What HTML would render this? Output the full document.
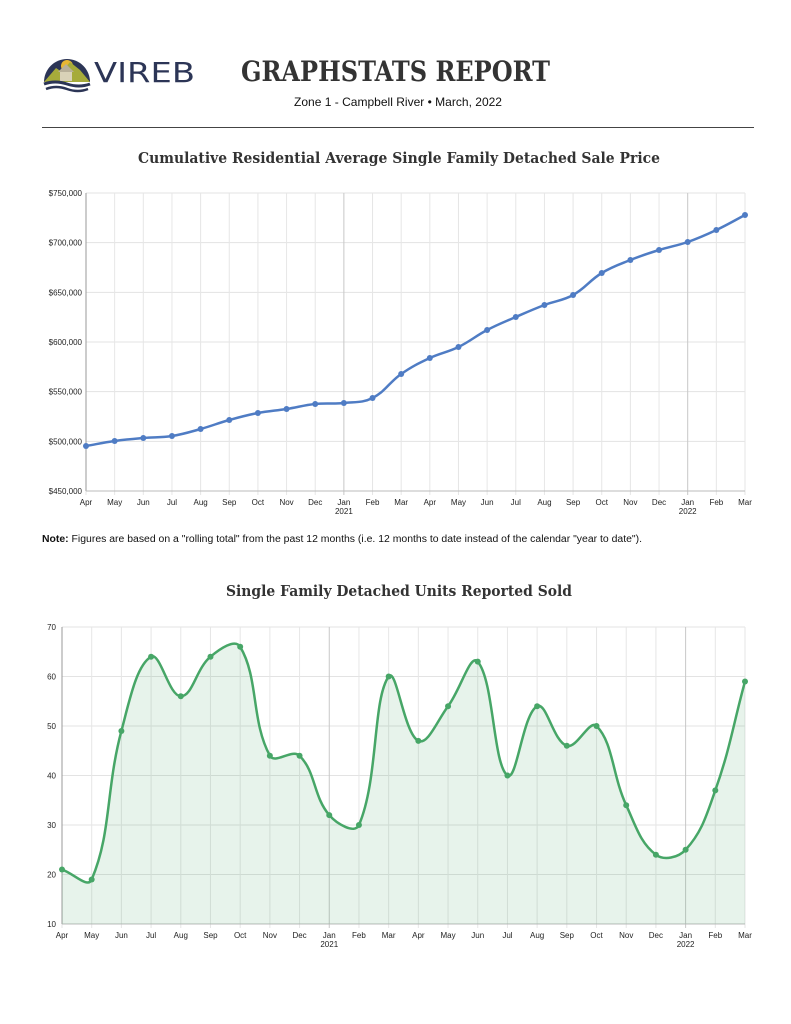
<!DOCTYPE html>
<html><head><meta charset="utf-8"><style>
html,body{margin:0;padding:0;background:#fff;}
svg{display:block;font-family:"Liberation Sans",sans-serif;}
</style></head><body>
<svg id="s" width="791" height="1024" viewBox="0 0 791 1024" xmlns="http://www.w3.org/2000/svg">
<g>
<path d="M44,82 A23,23 0 0 1 90,82 Z" fill="#2c3556"/>
<circle cx="67" cy="66" r="6" fill="#e8b733"/>
<path d="M44,82 L56,68 L62,72 L70,62 L80,70 L90,82 Z" fill="#a6ab3a"/>
<rect x="60" y="70" width="12" height="11" fill="#d9d2b8"/>
<path d="M58,72 L66,64 L74,72 Z" fill="#b8b09a"/>
<path d="M44,84 Q55,80 67,84 T90,84" stroke="#2c3556" stroke-width="3" fill="none"/>
<path d="M46,89 Q56,85 67,89 T88,89" stroke="#2c3556" stroke-width="2.5" fill="none"/>
<text x="94" y="82" font-size="28" fill="#2c3556" font-family="DejaVu Sans,sans-serif" font-weight="normal" textLength="101" lengthAdjust="spacingAndGlyphs">VIREB</text>
</g>
<text x="241" y="81" font-size="28" fill="#333" font-weight="bold" font-family="DejaVu Serif,Liberation Serif,serif" textLength="309" lengthAdjust="spacingAndGlyphs">GRAPHSTATS REPORT</text>
<text x="294" y="106" font-size="12" fill="#111" textLength="208" lengthAdjust="spacingAndGlyphs">Zone 1 - Campbell River  •  March, 2022</text>
<line x1="42" y1="127.5" x2="754" y2="127.5" stroke="#444" stroke-width="1"/>
<text x="138" y="163" font-size="15" fill="#333" font-weight="bold" font-family="DejaVu Serif,Liberation Serif,serif" textLength="522" lengthAdjust="spacingAndGlyphs">Cumulative Residential Average Single Family Detached Sale Price</text>
<text x="42" y="542" font-size="10" fill="#111" textLength="600" lengthAdjust="spacingAndGlyphs"><tspan font-weight="bold">Note:</tspan> Figures are based on a "rolling total" from the past 12 months (i.e. 12 months to date instead of the calendar "year to date").</text>
<text x="226" y="596" font-size="15" fill="#333" font-weight="bold" font-family="DejaVu Serif,Liberation Serif,serif" textLength="346" lengthAdjust="spacingAndGlyphs">Single Family Detached Units Reported Sold</text>
<g id="c1"></g>
<g id="c2"></g>
</svg>
<script>
var NS="http://www.w3.org/2000/svg";
function el(p,t,a,txt){var e=document.createElementNS(NS,t);for(var k in a)e.setAttribute(k,a[k]);if(txt!==undefined)e.textContent=txt;p.appendChild(e);return e;}
var months=["Apr","May","Jun","Jul","Aug","Sep","Oct","Nov","Dec","Jan","Feb","Mar"];
function spline(pts){
  var cps=[];
  for(var i=0;i<pts.length;i++){
    var p=pts[i],pr=pts[i-1]||p,nx=pts[i+1]||p;
    var d01=Math.hypot(p[0]-pr[0],p[1]-pr[1]),d12=Math.hypot(nx[0]-p[0],nx[1]-p[1]);
    var s=d01+d12||1,t=0.4,fa=t*d01/s,fb=t*d12/s;
    cps.push([[p[0]-fa*(nx[0]-pr[0]),p[1]-fa*(nx[1]-pr[1])],[p[0]+fb*(nx[0]-pr[0]),p[1]+fb*(nx[1]-pr[1])]]);
  }
  var d="M"+pts[0][0]+","+pts[0][1];
  for(var i=1;i<pts.length;i++){var a=cps[i-1][1],b=cps[i][0];d+=" C"+a[0]+","+a[1]+" "+b[0]+","+b[1]+" "+pts[i][0]+","+pts[i][1];}
  return d;
}
function chart(g,x0,x1,yTop,yBot,vmin,vmax,step,fmt,vals,color,fill,lblOff){
  var n=vals.length,dx=(x1-x0)/(n-1);
  for(var v=vmin;v<=vmax;v+=step){
    var y=yBot-(v-vmin)/(vmax-vmin)*(yBot-yTop);
    el(g,"line",{x1:x0,x2:x1,y1:y,y2:y,stroke:"#e3e3e3","stroke-width":1});
    el(g,"text",{x:x0-lblOff,y:y+3,"font-size":8,fill:"#222","text-anchor":"end"},fmt(v));
  }
  for(var i=0;i<n;i++){
    var x=x0+i*dx,m=months[i%12];
    el(g,"line",{x1:x,x2:x,y1:yTop,y2:yBot+4,stroke:(m=="Jan"?"#c8c8c8":"#e6e6e6"),"stroke-width":1});
    el(g,"text",{x:x,y:yBot+14,"font-size":8,fill:"#222","text-anchor":"middle"},m);
    if(m=="Jan")el(g,"text",{x:x,y:yBot+23,"font-size":8,fill:"#222","text-anchor":"middle"},i<12?"2021":"2022");
  }
  el(g,"line",{x1:x0,x2:x0,y1:yTop,y2:yBot,stroke:"#999","stroke-width":1});
  el(g,"line",{x1:x0,x2:x1,y1:yBot,y2:yBot,stroke:"#bbb","stroke-width":1});
  var pts=vals.map(function(v,i){return [x0+i*dx,yBot-(v-vmin)/(vmax-vmin)*(yBot-yTop)];});
  var d=spline(pts);
  if(fill)el(g,"path",{d:d+" L"+x1+","+yBot+" L"+x0+","+yBot+" Z",fill:fill});
  el(g,"path",{d:d,fill:"none",stroke:color,"stroke-width":2.5});
  pts.forEach(function(p){el(g,"circle",{cx:p[0],cy:p[1],r:3,fill:color});});
}
var py=[446,441,438,436,429,420,413,409,404,403,398,374,358,347,330,317,305,295,273,260,250,242,230,215];
var v1=py.map(function(y){return 450000+(491-y)*300000/298;});
chart(document.getElementById("c1"),86,745,193,491,450000,750000,50000,function(v){return "$"+(v/1000)+",000";},v1,"#4f7cc4",null,4);
var v2=[21,19,49,64,56,64,66,44,44,32,30,60,47,54,63,40,54,46,50,34,24,25,37,59];
chart(document.getElementById("c2"),62,745,627,924,10,70,10,function(v){return ""+v;},v2,"#47a667","rgba(71,166,103,0.13)",6);
</script>
</body></html>
